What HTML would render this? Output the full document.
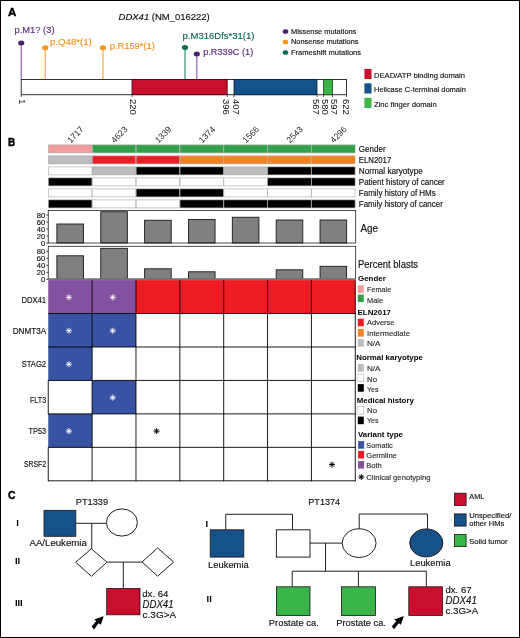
<!DOCTYPE html>
<html lang="en">
<head>
<meta charset="utf-8">
<title>DDX41 figure</title>
<style>
html,body{margin:0;padding:0;background:#fff;}
body{width:520px;height:638px;overflow:hidden;position:relative;font-family:'Liberation Sans', sans-serif;}
svg{position:absolute;left:0;top:0;display:block;will-change:transform;}
svg text{font-family:"Liberation Sans", sans-serif;}
#frame{position:absolute;left:0;top:0;width:518px;height:636px;border:1px solid #000;}
</style>
</head>
<body>
<svg width="520" height="638" viewBox="0 0 520 638">
<rect x="0" y="0" width="520" height="638" fill="#fff"/>
<!-- Panel A -->
<text x="7.9" y="16" font-size="11.5" fill="#000" font-weight="bold" textLength="8.3" lengthAdjust="spacingAndGlyphs" stroke="#000" stroke-width="0.45">A</text>
<text x="118.6" y="19.7" font-size="9.5" fill="#111" stroke="#111" stroke-width="0.15" textLength="91.2" lengthAdjust="spacingAndGlyphs"><tspan font-style="italic">DDX41</tspan> (NM_016222)</text>
<line x1="21.25" y1="42.9" x2="21.25" y2="79" stroke="#8a59a8" stroke-width="1.15"/>
<ellipse cx="21.25" cy="42.9" rx="3.1" ry="2.5" fill="#4b1f6f"/>
<line x1="45.25" y1="47.75" x2="45.25" y2="79" stroke="#fbab35" stroke-width="1.15"/>
<ellipse cx="45.25" cy="47.75" rx="3.1" ry="2.5" fill="#f7941d"/>
<line x1="103.0" y1="47.75" x2="103.0" y2="79" stroke="#fbab35" stroke-width="1.15"/>
<ellipse cx="103.0" cy="47.75" rx="3.1" ry="2.5" fill="#f7941d"/>
<line x1="185.0" y1="47.5" x2="185.0" y2="79" stroke="#2a8a72" stroke-width="1.15"/>
<ellipse cx="185.0" cy="47.5" rx="3.1" ry="2.5" fill="#0b6b57"/>
<line x1="196.8" y1="53.9" x2="196.8" y2="79" stroke="#8a59a8" stroke-width="1.15"/>
<ellipse cx="196.8" cy="53.9" rx="3.1" ry="2.5" fill="#4b1f6f"/>
<text x="14.5" y="33.3" font-size="9.5" fill="#5b2b82" textLength="40" lengthAdjust="spacingAndGlyphs" stroke="#5b2b82" stroke-width="0.15">p.M1? (3)</text>
<text x="50" y="45" font-size="9.5" fill="#f7941d" textLength="41.8" lengthAdjust="spacingAndGlyphs" stroke="#f7941d" stroke-width="0.15">p.Q48*(1)</text>
<text x="109.7" y="49" font-size="9.5" fill="#f7941d" textLength="45.2" lengthAdjust="spacingAndGlyphs" stroke="#f7941d" stroke-width="0.15">p.R159*(1)</text>
<text x="182.5" y="39" font-size="9.5" fill="#0b6b57" textLength="72" lengthAdjust="spacingAndGlyphs" stroke="#0b6b57" stroke-width="0.15">p.M316Dfs*31(1)</text>
<text x="203.2" y="54.7" font-size="9.5" fill="#5b2b82" textLength="50" lengthAdjust="spacingAndGlyphs" stroke="#5b2b82" stroke-width="0.15">p.R339C (1)</text>
<rect x="21.25" y="79.5" width="325.25" height="15.2" fill="#fff" stroke="#333" stroke-width="1"/>
<rect x="132" y="79.5" width="95.2" height="15.2" fill="#c8102e" stroke="#3a0a12" stroke-width="0.8"/>
<rect x="234" y="79.5" width="83" height="15.2" fill="#15528a" stroke="#0a2038" stroke-width="0.8"/>
<rect x="323.5" y="79.5" width="9" height="15.2" fill="#3db54a" stroke="#14401a" stroke-width="0.8"/>
<line x1="21.25" y1="95" x2="21.25" y2="97" stroke="#333" stroke-width="0.8"/>
<text transform="translate(19.0 98.9) rotate(90)" font-size="9.6" fill="#111">1</text>
<line x1="132" y1="95" x2="132" y2="97" stroke="#333" stroke-width="0.8"/>
<text transform="translate(129.6 98.9) rotate(90)" font-size="9.6" fill="#111" textLength="15.9" lengthAdjust="spacingAndGlyphs">220</text>
<line x1="227.3" y1="95" x2="227.3" y2="97" stroke="#333" stroke-width="0.8"/>
<text transform="translate(222.8 98.9) rotate(90)" font-size="9.6" fill="#111" textLength="15.9" lengthAdjust="spacingAndGlyphs">396</text>
<line x1="233.9" y1="95" x2="233.9" y2="97" stroke="#333" stroke-width="0.8"/>
<text transform="translate(233.0 98.9) rotate(90)" font-size="9.6" fill="#111" textLength="15.9" lengthAdjust="spacingAndGlyphs">407</text>
<line x1="317" y1="95" x2="317" y2="97" stroke="#333" stroke-width="0.8"/>
<text transform="translate(312.6 98.9) rotate(90)" font-size="9.6" fill="#111" textLength="15.9" lengthAdjust="spacingAndGlyphs">567</text>
<line x1="323.5" y1="95" x2="323.5" y2="97" stroke="#333" stroke-width="0.8"/>
<text transform="translate(322.0 98.9) rotate(90)" font-size="9.6" fill="#111" textLength="15.9" lengthAdjust="spacingAndGlyphs">580</text>
<line x1="332.5" y1="95" x2="332.5" y2="97" stroke="#333" stroke-width="0.8"/>
<text transform="translate(330.6 98.9) rotate(90)" font-size="9.6" fill="#111" textLength="15.9" lengthAdjust="spacingAndGlyphs">597</text>
<line x1="346.5" y1="95" x2="346.5" y2="97" stroke="#333" stroke-width="0.8"/>
<text transform="translate(343.2 98.9) rotate(90)" font-size="9.6" fill="#111" textLength="15.9" lengthAdjust="spacingAndGlyphs">622</text>
<ellipse cx="285.5" cy="31.5" rx="2.8" ry="2.3" fill="#4b1f6f"/>
<text x="291" y="33.9" font-size="7.6" fill="#111" textLength="65.3" lengthAdjust="spacingAndGlyphs" stroke="#111" stroke-width="0.15">Missense mutations</text>
<ellipse cx="285.5" cy="42" rx="2.8" ry="2.3" fill="#f7941d"/>
<text x="291" y="44.4" font-size="7.6" fill="#111" textLength="67.5" lengthAdjust="spacingAndGlyphs" stroke="#111" stroke-width="0.15">Nonsense mutations</text>
<ellipse cx="285.5" cy="52.5" rx="2.8" ry="2.3" fill="#0b6b57"/>
<text x="291" y="54.9" font-size="7.6" fill="#111" textLength="70" lengthAdjust="spacingAndGlyphs" stroke="#111" stroke-width="0.15">Frameshift mutations</text>
<rect x="364.4" y="68.9" width="7.1" height="10.2" fill="#c8102e"/>
<text x="374" y="77.6" font-size="7.8" fill="#111" textLength="91" lengthAdjust="spacingAndGlyphs" stroke="#111" stroke-width="0.15">DEAD/ATP binding domain</text>
<rect x="364.4" y="83.3" width="7.1" height="10.2" fill="#15528a"/>
<text x="374" y="91.6" font-size="7.8" fill="#111" textLength="91.8" lengthAdjust="spacingAndGlyphs" stroke="#111" stroke-width="0.15">Helicase C-terminal domain</text>
<rect x="364.4" y="97.8" width="7.1" height="10.2" fill="#3db54a"/>
<text x="374" y="107.4" font-size="7.8" fill="#111" textLength="62.7" lengthAdjust="spacingAndGlyphs" stroke="#111" stroke-width="0.15">Zinc finger domain</text>
<!-- Panel B -->
<text x="8.1" y="146.1" font-size="11.5" fill="#000" font-weight="bold" textLength="7.2" lengthAdjust="spacingAndGlyphs" stroke="#000" stroke-width="0.45">B</text>
<text transform="translate(70.68 143.5) rotate(-45)" font-size="8.6" fill="#231f20">1717</text>
<text transform="translate(114.54 143.5) rotate(-45)" font-size="8.6" fill="#231f20">4623</text>
<text transform="translate(158.40 143.5) rotate(-45)" font-size="8.6" fill="#231f20">1339</text>
<text transform="translate(202.26 143.5) rotate(-45)" font-size="8.6" fill="#231f20">1374</text>
<text transform="translate(246.12 143.5) rotate(-45)" font-size="8.6" fill="#231f20">1566</text>
<text transform="translate(289.98 143.5) rotate(-45)" font-size="8.6" fill="#231f20">2543</text>
<text transform="translate(333.84 143.5) rotate(-45)" font-size="8.6" fill="#231f20">4296</text>
<rect x="48.45" y="144.90" width="43.46" height="8.0" fill="#f4999d" stroke="#a9a9a9" stroke-width="0.6"/>
<rect x="92.31" y="144.90" width="43.46" height="8.0" fill="#2fa148" stroke="#a9a9a9" stroke-width="0.6"/>
<rect x="136.17" y="144.90" width="43.46" height="8.0" fill="#2fa148" stroke="#a9a9a9" stroke-width="0.6"/>
<rect x="180.03" y="144.90" width="43.46" height="8.0" fill="#2fa148" stroke="#a9a9a9" stroke-width="0.6"/>
<rect x="223.89" y="144.90" width="43.46" height="8.0" fill="#2fa148" stroke="#a9a9a9" stroke-width="0.6"/>
<rect x="267.75" y="144.90" width="43.46" height="8.0" fill="#2fa148" stroke="#a9a9a9" stroke-width="0.6"/>
<rect x="311.61" y="144.90" width="43.46" height="8.0" fill="#2fa148" stroke="#a9a9a9" stroke-width="0.6"/>
<text x="358.8" y="151.9" font-size="8.2" fill="#111" textLength="26.8" lengthAdjust="spacingAndGlyphs" stroke="#111" stroke-width="0.15">Gender</text>
<rect x="48.45" y="155.90" width="43.46" height="8.0" fill="#bcbcbe" stroke="#a9a9a9" stroke-width="0.6"/>
<rect x="92.31" y="155.90" width="43.46" height="8.0" fill="#ed1c24" stroke="#a9a9a9" stroke-width="0.6"/>
<rect x="136.17" y="155.90" width="43.46" height="8.0" fill="#ed1c24" stroke="#a9a9a9" stroke-width="0.6"/>
<rect x="180.03" y="155.90" width="43.46" height="8.0" fill="#f58220" stroke="#a9a9a9" stroke-width="0.6"/>
<rect x="223.89" y="155.90" width="43.46" height="8.0" fill="#f58220" stroke="#a9a9a9" stroke-width="0.6"/>
<rect x="267.75" y="155.90" width="43.46" height="8.0" fill="#f58220" stroke="#a9a9a9" stroke-width="0.6"/>
<rect x="311.61" y="155.90" width="43.46" height="8.0" fill="#f58220" stroke="#a9a9a9" stroke-width="0.6"/>
<text x="358.8" y="162.9" font-size="8.2" fill="#111" textLength="32.5" lengthAdjust="spacingAndGlyphs" stroke="#111" stroke-width="0.15">ELN2017</text>
<rect x="48.45" y="166.90" width="43.46" height="8.0" fill="#ffffff" stroke="#a9a9a9" stroke-width="0.6"/>
<rect x="92.31" y="166.90" width="43.46" height="8.0" fill="#bcbcbe" stroke="#a9a9a9" stroke-width="0.6"/>
<rect x="136.17" y="166.90" width="43.46" height="8.0" fill="#000000" stroke="#a9a9a9" stroke-width="0.6"/>
<rect x="180.03" y="166.90" width="43.46" height="8.0" fill="#000000" stroke="#a9a9a9" stroke-width="0.6"/>
<rect x="223.89" y="166.90" width="43.46" height="8.0" fill="#bcbcbe" stroke="#a9a9a9" stroke-width="0.6"/>
<rect x="267.75" y="166.90" width="43.46" height="8.0" fill="#000000" stroke="#a9a9a9" stroke-width="0.6"/>
<rect x="311.61" y="166.90" width="43.46" height="8.0" fill="#000000" stroke="#a9a9a9" stroke-width="0.6"/>
<text x="358.8" y="174.0" font-size="8.2" fill="#111" textLength="64" lengthAdjust="spacingAndGlyphs" stroke="#111" stroke-width="0.15">Normal karyotype</text>
<rect x="48.45" y="177.90" width="43.46" height="8.0" fill="#000000" stroke="#a9a9a9" stroke-width="0.6"/>
<rect x="92.31" y="177.90" width="43.46" height="8.0" fill="#ffffff" stroke="#a9a9a9" stroke-width="0.6"/>
<rect x="136.17" y="177.90" width="43.46" height="8.0" fill="#ffffff" stroke="#a9a9a9" stroke-width="0.6"/>
<rect x="180.03" y="177.90" width="43.46" height="8.0" fill="#ffffff" stroke="#a9a9a9" stroke-width="0.6"/>
<rect x="223.89" y="177.90" width="43.46" height="8.0" fill="#ffffff" stroke="#a9a9a9" stroke-width="0.6"/>
<rect x="267.75" y="177.90" width="43.46" height="8.0" fill="#000000" stroke="#a9a9a9" stroke-width="0.6"/>
<rect x="311.61" y="177.90" width="43.46" height="8.0" fill="#000000" stroke="#a9a9a9" stroke-width="0.6"/>
<text x="358.8" y="184.9" font-size="8.2" fill="#111" textLength="86" lengthAdjust="spacingAndGlyphs" stroke="#111" stroke-width="0.15">Patient history of cancer</text>
<rect x="48.45" y="188.90" width="43.46" height="8.0" fill="#ffffff" stroke="#a9a9a9" stroke-width="0.6"/>
<rect x="92.31" y="188.90" width="43.46" height="8.0" fill="#ffffff" stroke="#a9a9a9" stroke-width="0.6"/>
<rect x="136.17" y="188.90" width="43.46" height="8.0" fill="#000000" stroke="#a9a9a9" stroke-width="0.6"/>
<rect x="180.03" y="188.90" width="43.46" height="8.0" fill="#000000" stroke="#a9a9a9" stroke-width="0.6"/>
<rect x="223.89" y="188.90" width="43.46" height="8.0" fill="#ffffff" stroke="#a9a9a9" stroke-width="0.6"/>
<rect x="267.75" y="188.90" width="43.46" height="8.0" fill="#ffffff" stroke="#a9a9a9" stroke-width="0.6"/>
<rect x="311.61" y="188.90" width="43.46" height="8.0" fill="#ffffff" stroke="#a9a9a9" stroke-width="0.6"/>
<text x="358.8" y="195.9" font-size="8.2" fill="#111" textLength="77" lengthAdjust="spacingAndGlyphs" stroke="#111" stroke-width="0.15">Family history of HMs</text>
<rect x="48.45" y="199.90" width="43.46" height="8.0" fill="#000000" stroke="#a9a9a9" stroke-width="0.6"/>
<rect x="92.31" y="199.90" width="43.46" height="8.0" fill="#ffffff" stroke="#a9a9a9" stroke-width="0.6"/>
<rect x="136.17" y="199.90" width="43.46" height="8.0" fill="#ffffff" stroke="#a9a9a9" stroke-width="0.6"/>
<rect x="180.03" y="199.90" width="43.46" height="8.0" fill="#000000" stroke="#a9a9a9" stroke-width="0.6"/>
<rect x="223.89" y="199.90" width="43.46" height="8.0" fill="#000000" stroke="#a9a9a9" stroke-width="0.6"/>
<rect x="267.75" y="199.90" width="43.46" height="8.0" fill="#000000" stroke="#a9a9a9" stroke-width="0.6"/>
<rect x="311.61" y="199.90" width="43.46" height="8.0" fill="#000000" stroke="#a9a9a9" stroke-width="0.6"/>
<text x="358.8" y="206.70000000000002" font-size="8.2" fill="#111" textLength="84" lengthAdjust="spacingAndGlyphs" stroke="#111" stroke-width="0.15">Family history of cancer</text>
<rect x="56.88" y="224.00" width="26.6" height="19.00" fill="#808080" stroke="#1a1a1a" stroke-width="0.9"/>
<rect x="100.74" y="211.75" width="26.6" height="31.25" fill="#808080" stroke="#1a1a1a" stroke-width="0.9"/>
<rect x="144.60" y="220.25" width="26.6" height="22.75" fill="#808080" stroke="#1a1a1a" stroke-width="0.9"/>
<rect x="188.46" y="219.50" width="26.6" height="23.50" fill="#808080" stroke="#1a1a1a" stroke-width="0.9"/>
<rect x="232.32" y="217.25" width="26.6" height="25.75" fill="#808080" stroke="#1a1a1a" stroke-width="0.9"/>
<rect x="276.18" y="220.00" width="26.6" height="23.00" fill="#808080" stroke="#1a1a1a" stroke-width="0.9"/>
<rect x="320.04" y="220.00" width="26.6" height="23.00" fill="#808080" stroke="#1a1a1a" stroke-width="0.9"/>
<rect x="48.25" y="210.5" width="307.42" height="32.5" fill="none" stroke="#222" stroke-width="0.8"/>
<line x1="46.3" y1="243" x2="48.25" y2="243" stroke="#000" stroke-width="0.7"/>
<text x="45.2" y="245.75" font-size="7.6" fill="#111" text-anchor="end" stroke="#111" stroke-width="0.15">0</text>
<line x1="46.3" y1="236" x2="48.25" y2="236" stroke="#000" stroke-width="0.7"/>
<text x="45.2" y="238.75" font-size="7.6" fill="#111" text-anchor="end" stroke="#111" stroke-width="0.15">20</text>
<line x1="46.3" y1="229" x2="48.25" y2="229" stroke="#000" stroke-width="0.7"/>
<text x="45.2" y="231.75" font-size="7.6" fill="#111" text-anchor="end" stroke="#111" stroke-width="0.15">40</text>
<line x1="46.3" y1="222" x2="48.25" y2="222" stroke="#000" stroke-width="0.7"/>
<text x="45.2" y="224.75" font-size="7.6" fill="#111" text-anchor="end" stroke="#111" stroke-width="0.15">60</text>
<line x1="46.3" y1="215" x2="48.25" y2="215" stroke="#000" stroke-width="0.7"/>
<text x="45.2" y="217.75" font-size="7.6" fill="#111" text-anchor="end" stroke="#111" stroke-width="0.15">80</text>
<text x="360.5" y="232.3" font-size="10" fill="#111" textLength="17.5" lengthAdjust="spacingAndGlyphs" stroke="#111" stroke-width="0.15">Age</text>
<rect x="56.88" y="255.80" width="26.6" height="23.50" fill="#808080" stroke="#1a1a1a" stroke-width="0.9"/>
<rect x="100.74" y="248.30" width="26.6" height="31.00" fill="#808080" stroke="#1a1a1a" stroke-width="0.9"/>
<rect x="144.60" y="268.80" width="26.6" height="10.50" fill="#808080" stroke="#1a1a1a" stroke-width="0.9"/>
<rect x="188.46" y="271.80" width="26.6" height="7.50" fill="#808080" stroke="#1a1a1a" stroke-width="0.9"/>
<rect x="276.18" y="269.80" width="26.6" height="9.50" fill="#808080" stroke="#1a1a1a" stroke-width="0.9"/>
<rect x="320.04" y="266.30" width="26.6" height="13.00" fill="#808080" stroke="#1a1a1a" stroke-width="0.9"/>
<rect x="48.25" y="246.3" width="307.42" height="33.0" fill="none" stroke="#222" stroke-width="0.8"/>
<line x1="46.3" y1="279.3" x2="48.25" y2="279.3" stroke="#000" stroke-width="0.7"/>
<text x="45.2" y="282.05" font-size="7.6" fill="#111" text-anchor="end" stroke="#111" stroke-width="0.15">0</text>
<line x1="46.3" y1="272.3" x2="48.25" y2="272.3" stroke="#000" stroke-width="0.7"/>
<text x="45.2" y="275.05" font-size="7.6" fill="#111" text-anchor="end" stroke="#111" stroke-width="0.15">20</text>
<line x1="46.3" y1="265.3" x2="48.25" y2="265.3" stroke="#000" stroke-width="0.7"/>
<text x="45.2" y="268.05" font-size="7.6" fill="#111" text-anchor="end" stroke="#111" stroke-width="0.15">40</text>
<line x1="46.3" y1="258.3" x2="48.25" y2="258.3" stroke="#000" stroke-width="0.7"/>
<text x="45.2" y="261.05" font-size="7.6" fill="#111" text-anchor="end" stroke="#111" stroke-width="0.15">60</text>
<line x1="46.3" y1="251.3" x2="48.25" y2="251.3" stroke="#000" stroke-width="0.7"/>
<text x="45.2" y="254.05" font-size="7.6" fill="#111" text-anchor="end" stroke="#111" stroke-width="0.15">80</text>
<text x="358" y="267.5" font-size="10" fill="#111" textLength="60" lengthAdjust="spacingAndGlyphs" stroke="#111" stroke-width="0.15">Percent blasts</text>
<rect x="48.25" y="280.10" width="43.86" height="33.45" fill="#8450a0"/>
<rect x="92.11" y="280.10" width="43.86" height="33.45" fill="#8450a0"/>
<rect x="135.97" y="280.10" width="43.86" height="33.45" fill="#ed1c24"/>
<rect x="179.83" y="280.10" width="43.86" height="33.45" fill="#ed1c24"/>
<rect x="223.69" y="280.10" width="43.86" height="33.45" fill="#ed1c24"/>
<rect x="267.55" y="280.10" width="43.86" height="33.45" fill="#ed1c24"/>
<rect x="311.41" y="280.10" width="43.86" height="33.45" fill="#ed1c24"/>
<rect x="48.25" y="313.55" width="43.86" height="33.45" fill="#3953a4"/>
<rect x="92.11" y="313.55" width="43.86" height="33.45" fill="#3953a4"/>
<rect x="48.25" y="347.00" width="43.86" height="33.45" fill="#3953a4"/>
<rect x="92.11" y="380.45" width="43.86" height="33.45" fill="#3953a4"/>
<rect x="48.25" y="413.90" width="43.86" height="33.45" fill="#3953a4"/>
<line x1="92.11" y1="280.1" x2="92.11" y2="481.25" stroke="#000" stroke-width="0.9"/>
<line x1="135.97" y1="280.1" x2="135.97" y2="481.25" stroke="#000" stroke-width="0.9"/>
<line x1="179.83" y1="280.1" x2="179.83" y2="481.25" stroke="#000" stroke-width="0.9"/>
<line x1="223.69" y1="280.1" x2="223.69" y2="481.25" stroke="#000" stroke-width="0.9"/>
<line x1="267.55" y1="280.1" x2="267.55" y2="481.25" stroke="#000" stroke-width="0.9"/>
<line x1="311.41" y1="280.1" x2="311.41" y2="481.25" stroke="#000" stroke-width="0.9"/>
<line x1="355.27" y1="280.1" x2="355.27" y2="481.25" stroke="#000" stroke-width="0.9"/>
<line x1="48.25" y1="380.45" x2="48.25" y2="414.35" stroke="#000" stroke-width="0.9"/>
<line x1="48.25" y1="447.35" x2="48.25" y2="481.25" stroke="#000" stroke-width="0.9"/>
<line x1="48.05" y1="313.55" x2="355.72" y2="313.55" stroke="#000" stroke-width="0.9"/>
<line x1="48.05" y1="347.00" x2="355.72" y2="347.00" stroke="#000" stroke-width="0.9"/>
<line x1="48.05" y1="380.45" x2="355.72" y2="380.45" stroke="#000" stroke-width="0.9"/>
<line x1="48.05" y1="413.90" x2="355.72" y2="413.90" stroke="#000" stroke-width="0.9"/>
<line x1="48.05" y1="447.35" x2="355.72" y2="447.35" stroke="#000" stroke-width="0.9"/>
<line x1="48.05" y1="480.80" x2="355.72" y2="480.80" stroke="#000" stroke-width="0.9"/>
<line x1="47.85" y1="279.15" x2="355.87" y2="279.15" stroke="#6f7777" stroke-width="1.7"/>
<path d="M65.88 297.33L71.88 297.33M66.76 295.20L71.00 299.45M68.88 294.33L68.88 300.33M71.00 295.20L66.76 299.45" stroke="#fff" stroke-width="0.9" fill="none"/>
<path d="M109.74 297.33L115.74 297.33M110.62 295.20L114.86 299.45M112.74 294.33L112.74 300.33M114.86 295.20L110.62 299.45" stroke="#fff" stroke-width="0.9" fill="none"/>
<path d="M65.88 330.78L71.88 330.78M66.76 328.65L71.00 332.90M68.88 327.78L68.88 333.78M71.00 328.65L66.76 332.90" stroke="#fff" stroke-width="0.9" fill="none"/>
<path d="M109.74 330.78L115.74 330.78M110.62 328.65L114.86 332.90M112.74 327.78L112.74 333.78M114.86 328.65L110.62 332.90" stroke="#fff" stroke-width="0.9" fill="none"/>
<path d="M65.88 364.23L71.88 364.23M66.76 362.10L71.00 366.35M68.88 361.23L68.88 367.23M71.00 362.10L66.76 366.35" stroke="#fff" stroke-width="0.9" fill="none"/>
<path d="M109.74 397.68L115.74 397.68M110.62 395.55L114.86 399.80M112.74 394.68L112.74 400.68M114.86 395.55L110.62 399.80" stroke="#fff" stroke-width="0.9" fill="none"/>
<path d="M65.88 431.13L71.88 431.13M66.76 429.00L71.00 433.25M68.88 428.13L68.88 434.13M71.00 429.00L66.76 433.25" stroke="#fff" stroke-width="0.9" fill="none"/>
<path d="M153.60 431.13L159.60 431.13M154.48 429.00L158.72 433.25M156.60 428.13L156.60 434.13M158.72 429.00L154.48 433.25" stroke="#000" stroke-width="0.95" fill="none"/>
<path d="M329.04 464.58L335.04 464.58M329.92 462.45L334.16 466.70M332.04 461.58L332.04 467.58M334.16 462.45L329.92 466.70" stroke="#000" stroke-width="0.95" fill="none"/>
<text x="46.1" y="302.7" font-size="8.4" fill="#111" text-anchor="end" textLength="24.7" lengthAdjust="spacingAndGlyphs" stroke="#111" stroke-width="0.15">DDX41</text>
<text x="46.1" y="334.3" font-size="8.4" fill="#111" text-anchor="end" textLength="33.4" lengthAdjust="spacingAndGlyphs" stroke="#111" stroke-width="0.15">DNMT3A</text>
<text x="46.1" y="366.7" font-size="8.4" fill="#111" text-anchor="end" textLength="24.4" lengthAdjust="spacingAndGlyphs" stroke="#111" stroke-width="0.15">STAG2</text>
<text x="46.1" y="402.5" font-size="8.4" fill="#111" text-anchor="end" textLength="16.1" lengthAdjust="spacingAndGlyphs" stroke="#111" stroke-width="0.15">FLT3</text>
<text x="46.1" y="434" font-size="8.4" fill="#111" text-anchor="end" textLength="17.5" lengthAdjust="spacingAndGlyphs" stroke="#111" stroke-width="0.15">TP53</text>
<text x="46.1" y="466.8" font-size="8.4" fill="#111" text-anchor="end" textLength="22.2" lengthAdjust="spacingAndGlyphs" stroke="#111" stroke-width="0.15">SRSF2</text>
<text x="358" y="281.0" font-size="8.0" fill="#000" font-weight="bold" textLength="27.8" lengthAdjust="spacingAndGlyphs">Gender</text>
<rect x="357.8" y="285.3" width="6" height="7.6" fill="#f4999d"/>
<text x="367" y="291.70000000000005" font-size="7.6" fill="#2e2e2e" textLength="24.3" lengthAdjust="spacingAndGlyphs" stroke="#2e2e2e" stroke-width="0.15">Female</text>
<rect x="357.8" y="294.5" width="6" height="7.6" fill="#2fa148"/>
<text x="367" y="302.8" font-size="7.6" fill="#2e2e2e" textLength="16" lengthAdjust="spacingAndGlyphs" stroke="#2e2e2e" stroke-width="0.15">Male</text>
<text x="357.5" y="315.2" font-size="8.0" fill="#000" font-weight="bold" textLength="33.5" lengthAdjust="spacingAndGlyphs">ELN2017</text>
<rect x="357.8" y="318.7" width="6" height="7.6" fill="#ed1c24"/>
<text x="367" y="325.1" font-size="7.6" fill="#2e2e2e" textLength="27.5" lengthAdjust="spacingAndGlyphs" stroke="#2e2e2e" stroke-width="0.15">Adverse</text>
<rect x="357.8" y="329.0" width="6" height="7.6" fill="#f58220"/>
<text x="367" y="335.90000000000003" font-size="7.6" fill="#2e2e2e" textLength="43" lengthAdjust="spacingAndGlyphs" stroke="#2e2e2e" stroke-width="0.15">Intermediate</text>
<rect x="357.8" y="339.1" width="6" height="7.6" fill="#bcbcbe"/>
<text x="367" y="346.40000000000003" font-size="7.6" fill="#2e2e2e" textLength="13.5" lengthAdjust="spacingAndGlyphs" stroke="#2e2e2e" stroke-width="0.15">N/A</text>
<text x="356.2" y="359.5" font-size="8.0" fill="#000" font-weight="bold" textLength="66.8" lengthAdjust="spacingAndGlyphs">Normal karyotype</text>
<rect x="357.8" y="364.1" width="6" height="7.6" fill="#bcbcbe"/>
<text x="367" y="370.90000000000003" font-size="7.6" fill="#2e2e2e" textLength="13.5" lengthAdjust="spacingAndGlyphs" stroke="#2e2e2e" stroke-width="0.15">N/A</text>
<rect x="357.8" y="374.1" width="6" height="7.6" fill="#ffffff" stroke="#b5b5b5" stroke-width="0.6"/>
<text x="367" y="381.90000000000003" font-size="7.6" fill="#2e2e2e" textLength="10" lengthAdjust="spacingAndGlyphs" stroke="#2e2e2e" stroke-width="0.15">No</text>
<rect x="357.8" y="384.1" width="6" height="7.6" fill="#000000"/>
<text x="367" y="391.90000000000003" font-size="7.6" fill="#2e2e2e" textLength="11.5" lengthAdjust="spacingAndGlyphs" stroke="#2e2e2e" stroke-width="0.15">Yes</text>
<text x="356.8" y="402.7" font-size="8.0" fill="#000" font-weight="bold" textLength="57" lengthAdjust="spacingAndGlyphs">Medical history</text>
<rect x="357.8" y="406.6" width="6" height="7.6" fill="#ffffff" stroke="#b5b5b5" stroke-width="0.6"/>
<text x="367" y="412.70000000000005" font-size="7.6" fill="#2e2e2e" textLength="10" lengthAdjust="spacingAndGlyphs" stroke="#2e2e2e" stroke-width="0.15">No</text>
<rect x="357.8" y="416.6" width="6" height="7.6" fill="#000000"/>
<text x="367" y="423.1" font-size="7.6" fill="#2e2e2e" textLength="11.5" lengthAdjust="spacingAndGlyphs" stroke="#2e2e2e" stroke-width="0.15">Yes</text>
<text x="358" y="436.5" font-size="8.0" fill="#000" font-weight="bold" textLength="45" lengthAdjust="spacingAndGlyphs">Variant type</text>
<rect x="358.1" y="441.1" width="6" height="7.6" fill="#3953a4"/>
<text x="366.3" y="447.90000000000003" font-size="7.6" fill="#2e2e2e" textLength="26.5" lengthAdjust="spacingAndGlyphs" stroke="#2e2e2e" stroke-width="0.15">Somatic</text>
<rect x="358.1" y="450.90000000000003" width="6" height="7.6" fill="#ed1c24"/>
<text x="366.3" y="457.90000000000003" font-size="7.6" fill="#2e2e2e" textLength="30.5" lengthAdjust="spacingAndGlyphs" stroke="#2e2e2e" stroke-width="0.15">Germline</text>
<rect x="358.1" y="461.0" width="6" height="7.6" fill="#8450a0"/>
<text x="366.3" y="468.1" font-size="7.6" fill="#2e2e2e" textLength="15.5" lengthAdjust="spacingAndGlyphs" stroke="#2e2e2e" stroke-width="0.15">Both</text>
<path d="M358.40 477.00L364.20 477.00M359.25 474.95L363.35 479.05M361.30 474.10L361.30 479.90M363.35 474.95L359.25 479.05" stroke="#000" stroke-width="1.0" fill="none"/>
<text x="366.3" y="480.1" font-size="7.6" fill="#2e2e2e" textLength="64.3" lengthAdjust="spacingAndGlyphs" stroke="#2e2e2e" stroke-width="0.15">Clinical genotyping</text>
<!-- Panel C -->
<text x="8.0" y="499.4" font-size="11.5" fill="#000" font-weight="bold" textLength="7.5" lengthAdjust="spacingAndGlyphs" stroke="#000" stroke-width="0.45">C</text>
<text x="17.6" y="526.4" font-size="9.4" fill="#000" font-weight="bold" text-anchor="middle">I</text>
<text x="17.6" y="564.4" font-size="9.4" fill="#000" font-weight="bold" text-anchor="middle">II</text>
<text x="18.8" y="606.3" font-size="9.4" fill="#000" font-weight="bold" text-anchor="middle">III</text>
<text x="75.8" y="505" font-size="9.3" fill="#111" textLength="32.3" lengthAdjust="spacingAndGlyphs" stroke="#111" stroke-width="0.15">PT1339</text>
<path d="M76 523.3H106.3M91.75 523.3V549M107 562.1H142M123.3 562.1V589" stroke="#231f20" stroke-width="1" fill="none"/>
<rect x="44" y="510.3" width="31.8" height="26" fill="#15528a" stroke="#1d1014" stroke-width="0.8"/>
<ellipse cx="121.9" cy="522.5" rx="15.5" ry="13.6" fill="#fff" stroke="#231f20" stroke-width="1"/>
<path d="M91.4 548.8L107 562.2L91.4 576.2L75.6 562.2Z" fill="#fff" stroke="#231f20" stroke-width="1"/>
<path d="M157.6 548L173.7 562L157.6 576.2L142 562Z" fill="#fff" stroke="#231f20" stroke-width="1"/>
<rect x="106.7" y="588.5" width="33.3" height="26.3" fill="#c8102e" stroke="#1d1014" stroke-width="0.8"/>
<text x="29.5" y="546.3" font-size="9.5" fill="#111" textLength="57.3" lengthAdjust="spacingAndGlyphs" stroke="#111" stroke-width="0.15">AA/Leukemia</text>
<text x="142.2" y="596.5" font-size="9.5" fill="#111" textLength="26.3" lengthAdjust="spacingAndGlyphs" stroke="#111" stroke-width="0.15">dx. 64</text>
<text x="142.5" y="607.9" font-size="10" fill="#111" font-style="italic" textLength="31" lengthAdjust="spacingAndGlyphs" stroke="#111" stroke-width="0.15">DDX41</text>
<text x="142.6" y="618.0" font-size="9.5" fill="#111" textLength="33.5" lengthAdjust="spacingAndGlyphs" stroke="#111" stroke-width="0.15">c.3G&gt;A</text>
<polygon points="103.7,616.2 94.1,619.6 96.3,621.1 91.7,626.5 94.0,629.4 98.6,623.3 100.8,624.8" fill="#000"/>
<text x="206.8" y="526.5" font-size="9.4" fill="#000" font-weight="bold" text-anchor="middle">I</text>
<text x="209.2" y="601.7" font-size="9.4" fill="#000" font-weight="bold" text-anchor="middle">II</text>
<text x="308.3" y="504.6" font-size="9.3" fill="#111" textLength="31.8" lengthAdjust="spacingAndGlyphs" stroke="#111" stroke-width="0.15">PT1374</text>
<path d="M225.75 529.5V514.3H292.5V529.5M310 543.1H342M325.5 543.1V571.2M292.2 586.5V571.2H426.3V586.5M358.4 571.2V586.5M359.2 529V514H427.5V529" stroke="#231f20" stroke-width="1" fill="none"/>
<rect x="210.2" y="529.8" width="33.6" height="27.3" fill="#15528a" stroke="#1d1014" stroke-width="0.8"/>
<rect x="276.4" y="529.8" width="33.6" height="27.3" fill="#fff" stroke="#231f20" stroke-width="1"/>
<ellipse cx="359.1" cy="543.1" rx="17" ry="14.3" fill="#fff" stroke="#231f20" stroke-width="1"/>
<ellipse cx="426.3" cy="542.9" rx="16.6" ry="14" fill="#15528a" stroke="#1d1014" stroke-width="0.9"/>
<rect x="276.4" y="586.8" width="33.6" height="28.6" fill="#39b54a" stroke="#1d1014" stroke-width="0.8"/>
<rect x="341.4" y="586.8" width="34" height="28.6" fill="#39b54a" stroke="#1d1014" stroke-width="0.8"/>
<rect x="408.8" y="586.8" width="33.6" height="28.6" fill="#c8102e" stroke="#1d1014" stroke-width="0.8"/>
<text x="208.1" y="568.3" font-size="9.5" fill="#111" textLength="40.6" lengthAdjust="spacingAndGlyphs" stroke="#111" stroke-width="0.15">Leukemia</text>
<text x="410" y="565.8" font-size="9.5" fill="#111" textLength="40.6" lengthAdjust="spacingAndGlyphs" stroke="#111" stroke-width="0.15">Leukemia</text>
<text x="268.8" y="625.5" font-size="9.5" fill="#111" textLength="50" lengthAdjust="spacingAndGlyphs" stroke="#111" stroke-width="0.15">Prostate ca.</text>
<text x="336.3" y="625.5" font-size="9.5" fill="#111" textLength="49.6" lengthAdjust="spacingAndGlyphs" stroke="#111" stroke-width="0.15">Prostate ca.</text>
<text x="445.5" y="592.6" font-size="9.5" fill="#111" textLength="26" lengthAdjust="spacingAndGlyphs" stroke="#111" stroke-width="0.15">dx. 67</text>
<text x="445.6" y="603.7" font-size="10" fill="#111" font-style="italic" textLength="31.2" lengthAdjust="spacingAndGlyphs" stroke="#111" stroke-width="0.15">DDX41</text>
<text x="445.5" y="613.8" font-size="9.5" fill="#111" textLength="32.8" lengthAdjust="spacingAndGlyphs" stroke="#111" stroke-width="0.15">c.3G&gt;A</text>
<polygon points="403.8,616.1 394.2,619.5 396.4,621.0 391.8,626.4 394.1,629.3 398.7,623.2 400.9,624.7" fill="#000"/>
<rect x="454.5" y="493.2" width="11.6" height="12.2" fill="#c8102e" stroke="#1d1014" stroke-width="0.8"/>
<rect x="454.5" y="513.9" width="11.6" height="12.2" fill="#15528a" stroke="#1d1014" stroke-width="0.8"/>
<rect x="454.5" y="534.4" width="11.6" height="12.2" fill="#39b54a" stroke="#1d1014" stroke-width="0.8"/>
<text x="469.3" y="499.3" font-size="7.6" fill="#111" textLength="15" lengthAdjust="spacingAndGlyphs" stroke="#111" stroke-width="0.15">AML</text>
<text x="469.3" y="517.5" font-size="7.6" fill="#111" textLength="42" lengthAdjust="spacingAndGlyphs" stroke="#111" stroke-width="0.15">Unspecified/</text>
<text x="469.3" y="526.3" font-size="7.6" fill="#111" textLength="35" lengthAdjust="spacingAndGlyphs" stroke="#111" stroke-width="0.15">other HMs</text>
<text x="469.3" y="543.8" font-size="7.6" fill="#111" textLength="38.3" lengthAdjust="spacingAndGlyphs" stroke="#111" stroke-width="0.15">Solid tumor</text>
</svg>
<div id="frame"></div>
</body>
</html>
